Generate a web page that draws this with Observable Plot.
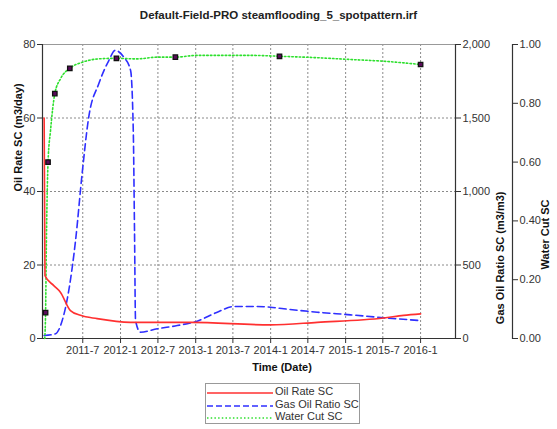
<!DOCTYPE html>
<html>
<head>
<meta charset="utf-8">
<script src="https://cdn.jsdelivr.net/npm/d3@7"></script>
<script src="https://cdn.jsdelivr.net/npm/@observablehq/plot@0.6"></script>
<style>
  html, body { margin: 0; padding: 0; background: #fff; }
  #wrap { position: relative; width: 557px; height: 429px; overflow: hidden; font-family: "Liberation Sans", Arial, sans-serif; }
  #title { position: absolute; left: 0; width: 557px; top: 9px; text-align: center; font-size: 11.5px; font-weight: bold; color: #222; padding-left: 0; }
  #chart { position: absolute; left: 0; top: 0; }
  #legend { position: absolute; left: 205px; top: 383px; width: 155px; height: 41px; border: 1px solid #999; box-sizing: border-box; background: #fff; }
  .row { position: absolute; left: 0; height: 13px; font-size: 11px; color: #333; }
  .row svg { position: absolute; left: 1px; top: 0; }
  .row span { position: absolute; left: 69px; top: -1px; white-space: nowrap; }
</style>
</head>
<body>
<div id="wrap">
  <div id="chart"></div>
  <div id="title">Default-Field-PRO steamflooding_5_spotpattern.irf</div>
  <div id="legend"></div>
</div>
<script>
// ---- data ----
const titleText = "Default-Field-PRO steamflooding_5_spotpattern.irf";
const xLabel = "Time (Date)";
const yLeftLabel = "Oil Rate SC (m3/day)";
const yGorLabel = "Gas Oil Ratio SC (m3/m3)";
const yWcLabel = "Water Cut SC";

const oilDates = ["2010-12-25","2010-12-29","2011-02-10","2011-03-14","2011-05-02","2011-06-20","2011-09-09","2012-02-18","2012-12-07","2013-12-31","2014-08-16","2015-07-05","2015-10-10","2016-01-01"];
const oilRate  = [60, 17.1, 14.4, 12.6, 7.6, 6.3, 5.4, 4.4, 4.4, 3.7, 4.4, 5.6, 6.3, 6.7];

const gorDates = ["2010-12-25","2011-02-18","2011-03-23","2011-04-24","2011-05-27","2011-06-28","2011-07-30","2011-09-17","2011-11-05","2011-12-05","2012-01-17","2012-02-19","2012-03-03","2012-03-09","2012-03-14","2012-04-07","2012-06-28","2012-10-03","2013-01-08","2013-04-16","2013-07-06","2013-09-25","2013-12-31","2014-03-06","2014-08-16","2015-01-25","2015-07-06","2016-01-01"];
const gorValues = [20, 32, 122, 327, 667, 1122, 1505, 1733, 1891, 1960, 1914, 1823, 1415, 735, 122, 43, 66, 88, 118, 179, 218, 218, 213, 202, 179, 161, 141, 122];

const wcDates = ["2010-12-28","2011-01-01","2011-01-05","2011-01-13","2011-01-25","2011-02-15","2011-03-15","2011-04-29","2011-06-30","2011-10-05","2011-12-12","2012-03-22","2012-06-27","2012-09-24","2013-01-08","2013-09-25","2014-02-13","2014-08-16","2015-01-25","2015-07-07","2016-01-01"];
const wcValues = [0.0, 0.088, 0.33, 0.60, 0.707, 0.833, 0.884, 0.919, 0.94, 0.952, 0.953, 0.951, 0.957, 0.957, 0.963, 0.963, 0.96, 0.955, 0.949, 0.943, 0.932];

const wcMarkerDates  = ["2011-01-01","2011-01-13","2011-02-15","2011-04-29","2011-12-12","2012-09-24","2014-02-13","2016-01-01"];
const wcMarkerValues = [0.088, 0.60, 0.833, 0.919, 0.953, 0.957, 0.96, 0.932];

const xTickDates = ["2011-07-01","2012-01-01","2012-07-01","2013-01-01","2013-07-01","2014-01-01","2014-07-01","2015-01-01","2015-07-01","2016-01-01"];
const oilTicks = [0, 20, 40, 60, 80];
const gorTicks = [0, 500, 1000, 1500, 2000];
const wcTicks = [0, 0.2, 0.4, 0.6, 0.8, 1.0];

const seriesNames = ["Oil Rate SC", "Gas Oil Ratio SC", "Water Cut SC"];
const seriesColors = ["#ff3030", "#2f2fff", "#2ee02e"];
const seriesDash = [null, "7,4", "1.5,2.2"];

// ---- build ----
const P = d3.utcParse("%Y-%m-%d");
const oil = oilDates.map((d, i) => ({date: P(d), v: oilRate[i]}));
const gor = gorDates.map((d, i) => ({date: P(d), v: gorValues[i]}));
const wc = wcDates.map((d, i) => ({date: P(d), v: wcValues[i]}));
const wcM = wcMarkerDates.map((d, i) => ({date: P(d), v: wcMarkerValues[i]}));
const xTicks = xTickDates.map(P);

const gorMax = 2000, oilMax = 80;
const gorToOil = v => v * oilMax / gorMax;
const wcToOil = v => v * oilMax;

const ink = "#333";
const gridStyle = {stroke: "#8a8a8a", strokeOpacity: 1, strokeDasharray: "2,2"};

const chart = Plot.plot({
  width: 557,
  height: 380,
  marginLeft: 42,
  marginRight: 102,
  marginTop: 44,
  marginBottom: 42,
  style: {fontFamily: "'Liberation Sans', Arial, sans-serif", fontSize: "11px", color: ink, background: "transparent"},
  x: {type: "utc", domain: [P("2010-12-17"), P("2016-06-19")]},
  y: {domain: [0, oilMax]},
  marks: [
    Plot.gridX(xTicks, gridStyle),
    Plot.gridY([20, 40, 60], gridStyle),
    Plot.frame({stroke: "#999"}),
    Plot.frame({anchor: "left", stroke: ink, strokeWidth: 1.2}),
    Plot.frame({anchor: "bottom", stroke: ink, strokeWidth: 1.2}),
    Plot.frame({anchor: "right", stroke: ink, strokeWidth: 1.2}),
    Plot.frame({anchor: "right", stroke: ink, strokeWidth: 1.2, dx: 57}),
    Plot.line(gor, {x: "date", y: d => gorToOil(d.v), stroke: seriesColors[1], strokeWidth: 1.6, strokeDasharray: seriesDash[1], curve: "monotone-x"}),
    Plot.line(wc, {x: "date", y: d => wcToOil(d.v), stroke: seriesColors[2], strokeWidth: 1.6, strokeDasharray: seriesDash[2], curve: "monotone-x"}),
    Plot.line(oil, {x: "date", y: "v", stroke: seriesColors[0], strokeWidth: 1.6, curve: "monotone-x"}),
    Plot.dot(wcM, {x: "date", y: d => wcToOil(d.v), symbol: "square", r: 2.5, fill: "#5a0a5a", stroke: "#111", strokeWidth: 1.3}),
    Plot.axisX(xTicks, {tickFormat: d3.utcFormat("%Y-%-m"), tickSize: 5, tickPadding: 3, label: null, color: ink, fontSize: 11}),
    Plot.axisY(oilTicks, {anchor: "left", tickSize: 5, tickPadding: 2, label: null, color: ink}),
    Plot.axisY(gorTicks.map(gorToOil), {anchor: "right", tickSize: 5, tickPadding: 2, label: null, color: ink, tickFormat: d => d3.format(",")(Math.round(d * gorMax / oilMax))}),
    Plot.axisY(wcTicks.map(wcToOil), {anchor: "right", dx: 57, tickSize: 5, tickPadding: 2, label: null, color: ink, tickFormat: d => (d / oilMax).toFixed(2)}),
    Plot.text([yLeftLabel], {text: d => d, frameAnchor: "left", rotate: -90, dx: -24, fontWeight: "bold", fontSize: 11, fill: "#111"}),
    Plot.text([yGorLabel], {text: d => d, frameAnchor: "right", rotate: -90, dx: 45, fontWeight: "bold", fontSize: 11, fill: "#111"}),
    Plot.text([yWcLabel], {text: d => d, frameAnchor: "right", rotate: -90, dx: 90, dy: 8, fontWeight: "bold", fontSize: 11, fill: "#111"}),
    Plot.text([xLabel], {text: d => d, frameAnchor: "bottom", dy: 32, dx: 33, fontWeight: "bold", fontSize: 11, fill: "#111"})
  ]
});
document.getElementById("chart").appendChild(chart);
document.getElementById("title").textContent = titleText;

// legend
const legend = document.getElementById("legend");
seriesNames.forEach((name, i) => {
  const row = document.createElement("div");
  row.className = "row";
  row.style.top = (2 + i * 12.5) + "px";
  const dash = seriesDash[i] ? ` stroke-dasharray="${i === 2 ? "1.5,2.2" : "6,3"}"` : "";
  row.innerHTML = `<svg width="66" height="13"><line x1="0" x2="66" y1="7" y2="7" stroke="${seriesColors[i]}" stroke-width="1.6"${dash}/></svg><span>${name}</span>`;
  legend.appendChild(row);
});
</script>
</body>
</html>
